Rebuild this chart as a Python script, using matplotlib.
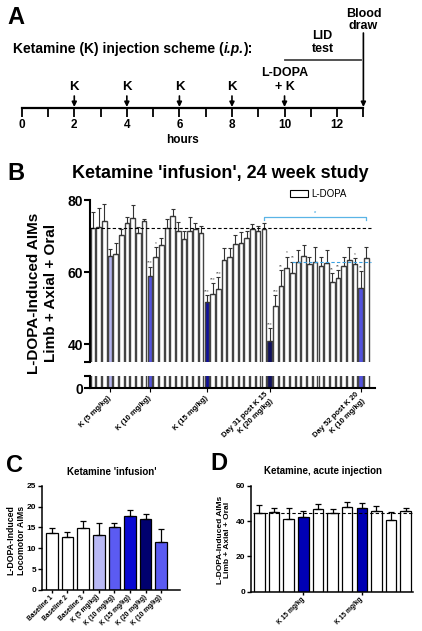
import numpy as np
import matplotlib.pyplot as plt
from matplotlib.patches import Patch

plt.rcParams['font.family'] = ['Liberation Sans', 'DejaVu Sans']
plt.rcParams['font.weight'] = 'bold'

W, H = 422, 631

# ---- panel A: injection scheme ----
hours = np.arange(0, 14)
hour_labels = np.arange(0, 13, 2)
k_hours = [2, 4, 6, 8]
ldopa_hour = 10
lid_span = (10, 12.9)
blood_hour = 13

# ---- panel B: 24 week infusion study ----
b_means = [72.1, 72.4, 74.1, 64.4, 65.0, 70.2, 73.5, 74.9, 70.9, 74.1,
           59.0, 64.3, 67.5, 72.1, 75.6, 71.4, 69.2, 71.5, 71.9, 70.7,
           51.8, 53.8, 55.2, 63.3, 64.3, 67.7, 68.0, 69.5, 71.9, 71.5,
           71.9, 40.7, 50.6, 56.1, 61.0, 59.6, 62.9, 64.5, 62.2, 62.9,
           61.7, 62.6, 57.1, 58.4, 61.8, 63.3, 62.1, 55.6, 63.8]
b_tops = [76.6, 77.7, 78.9, 66.4, 68.1, 71.9, 75.2, 78.6, 72.6, 74.7,
          61.5, 66.9, 69.5, 74.6, 77.4, 73.8, 71.5, 75.4, 73.5, 72.9,
          53.6, 56.9, 58.7, 66.6, 66.6, 70.3, 71.2, 71.5, 73.3, 72.9,
          73.5, 44.4, 53.6, 60.6, 64.3, 62.9, 66.1, 67.5, 64.3, 67.0,
          64.3, 66.1, 59.6, 60.6, 64.3, 67.0, 63.8, 60.3, 66.9]
b_dose_bars = {3: '#b4b4ee', 10: '#5353dd', 20: '#10109a', 31: '#101060', 47: '#5353dd'}
b_stars = {10: '***', 11: '*', 20: '***', 21: '***', 22: '***', 31: '***', 32: '***',
           33: '**', 34: '*', 35: '**', 42: '**', 43: '**', 46: '*', 47: '**'}
b_ticks = [3, 10, 20, 31, 47]
b_ticklabels = ['K (5 mg/kg)', 'K (10 mg/kg)', 'K (15 mg/kg)',
                'Day 31 post K 15\nK (20 mg/kg)', 'Day 52 post K 20\nK (10 mg/kg)']
b_baseline = 72.1
b_post_level = 62.7
b_bracket = (30, 48)

# ---- panel C: locomotor AIMs ----
c_labels = ['Baseline 1', 'Baseline 2', 'Baseline 3', 'K (5 mg/kg)', 'K (10 mg/kg)',
            'K (15 mg/kg)', 'K (20 mg/kg)', 'K (10 mg/kg)']
c_means = [13.6, 12.6, 14.9, 13.3, 15.0, 17.7, 17.0, 11.4]
c_tops = [14.8, 14.0, 16.5, 16.0, 16.0, 19.2, 18.2, 14.6]
c_colors = ['white', 'white', 'white', '#b8b8f4', '#5b5bf2', '#0a0ad2', '#00006e', '#5b5bf2']

# ---- panel D: acute injection ----
d_means = [44.7, 45.3, 41.1, 42.1, 46.6, 44.3, 48.1, 47.2, 45.7, 40.6, 45.7]
d_tops = [49.1, 47.2, 47.2, 45.7, 49.6, 47.0, 50.9, 50.0, 48.5, 45.3, 47.5]
d_k_bars = [3, 7]
d_baseline = 44.7

fig = plt.figure(figsize=(W / 100, H / 100), dpi=100)
renderer = fig.canvas.get_renderer()


def px_axes(x0, y0, x1, y1):
    return fig.add_axes([x0 / W, 1 - y1 / H, (x1 - x0) / W, (y1 - y0) / H])


def ftext(x, y, s, **kw):
    return fig.text(x / W, 1 - y / H, s, **kw)


# ================= A =================
axa = px_axes(0, 0, W, 160)
axa.set_xlim(-0.826, 15.23)
axa.set_ylim(160, 0)
axa.axis('off')
axa.plot([hours[0], hours[-1]], [108, 108], color='k', lw=1.6)
axa.vlines(hours, 108, 117, color='k', lw=1.3)
for h in hour_labels:
    axa.text(h, 125, str(h), ha='center', va='center', fontsize=8.5)
axa.text(6.1, 140, 'hours', ha='center', va='center', fontsize=8.5)
arrow = dict(arrowstyle='-|>', lw=1.2, color='k', mutation_scale=7, shrinkA=0, shrinkB=0)
for h in k_hours + [ldopa_hour]:
    axa.annotate('', xy=(h, 107), xytext=(h, 96), arrowprops=arrow)
for h in k_hours:
    axa.text(h, 87, 'K', ha='center', va='center', fontsize=9.5)
axa.text(ldopa_hour, 80, 'L-DOPA\n+ K', ha='center', va='center', fontsize=9, linespacing=1.15)
axa.annotate('', xy=(blood_hour, 107), xytext=(blood_hour, 33), arrowprops=arrow)
axa.text(blood_hour, 20, 'Blood\ndraw', ha='center', va='center', fontsize=9, linespacing=1.1)
axa.plot(lid_span, [60, 60], color='#444444', lw=1.3)
axa.text(np.mean(lid_span), 42.5, 'LID\ntest', ha='center', va='center', fontsize=9, linespacing=1.1)

# heading with italic "i.p." built from pieces
xpos = 12.7 / W
for piece, style in [('Ketamine (K) injection scheme (', 'normal'), ('i.p.', 'italic'), ('):', 'normal')]:
    t = fig.text(xpos, 1 - 49 / H, piece, ha='left', va='center', fontsize=10, style=style)
    bb = t.get_window_extent(renderer)
    xpos = fig.transFigure.inverted().transform((bb.x1, bb.y0))[0]

# ================= B =================
idx = np.arange(len(b_means))
b_means = np.array(b_means)
b_tops = np.array(b_tops)
b_cols = [b_dose_bars.get(i, 'white') for i in idx]

axb = px_axes(90, 200, 375, 362)
axb2 = px_axes(90, 376, 375, 388.3)
for ax, lo, hi in [(axb, 35, 80), (axb2, 0, 3.4)]:
    ax.bar(idx, b_means, width=0.8, color=b_cols, edgecolor='#444444', lw=1.0)
    ax.set_xlim(-0.5, 49.5)
    ax.set_ylim(lo, hi)
    for s in ['top', 'right']:
        ax.spines[s].set_visible(False)
    ax.spines['left'].set_linewidth(1.5)
    ax.tick_params(axis='y', width=1.5, length=4, labelsize=10, pad=1)

axb.errorbar(idx, b_means, yerr=[np.zeros(len(idx)), b_tops - b_means], fmt='none',
             ecolor='#333333', elinewidth=0.8, capsize=1.2, capthick=0.8)
for i, s in b_stars.items():
    axb.text(i, b_tops[i] + 0.3, s, fontsize=3.5, ha='center', va='bottom',
             color='#555555', fontweight='normal')
axb.spines['bottom'].set_visible(False)
axb.set_xticks([])
axb.set_yticks([35, 40, 60, 80])
axb.set_yticklabels(['', '40', '60', '80'])
axb.plot([-0.5, 48.8], [b_baseline, b_baseline], color='k', lw=0.8, dashes=(3, 2))
axb.plot([34.9, 48.8], [b_post_level, b_post_level], color='#3aa0e0', lw=0.8, dashes=(3, 2))
x0, x1 = b_bracket
axb.plot([x0, x0, x1, x1], [74.4, 75.2, 75.2, 74.4], color='#5ab4e6', lw=0.9)
axb.text((x0 + x1) / 2, 75.5, '*', fontsize=4, ha='center', va='bottom', color='#5ab4e6')

axb2.spines['bottom'].set_linewidth(1.5)
axb2.set_yticks([0, 3.4])
axb2.set_yticklabels(['0', ''])
axb2.set_xticks(b_ticks)
axb2.set_xticklabels(b_ticklabels, rotation=45, ha='right', va='center',
                     rotation_mode='anchor', fontsize=5.5, linespacing=1.25)
axb2.tick_params(axis='x', length=3, width=0.8, pad=3)

fig.legend([Patch(facecolor='white', edgecolor='k', lw=0.8)], ['L-DOPA'],
           loc='center left', bbox_to_anchor=(290 / W, 1 - 194 / H), frameon=False,
           handlelength=1.85, handleheight=0.6, handletextpad=0.3,
           borderpad=0, borderaxespad=0, prop={'weight': 'normal', 'size': 7})
ftext(220, 173, "Ketamine 'infusion', 24 week study", ha='center', va='center', fontsize=13)
ftext(42.5, 293, 'L-DOPA-Induced AIMs\nLimb + Axial + Oral', rotation=90, ha='center',
      va='center', fontsize=11, linespacing=1.2)

# ================= C =================
axc = px_axes(41.7, 485.7, 180, 590)
xc = np.arange(len(c_means))
c_means = np.array(c_means)
c_tops = np.array(c_tops)
axc.bar(xc, c_means, width=0.75, color=c_colors, edgecolor='k', lw=0.9)
axc.errorbar(xc, c_means, yerr=[np.zeros(len(xc)), c_tops - c_means], fmt='none',
             ecolor='k', elinewidth=0.9, capsize=2.5, capthick=0.9)
axc.set_xlim(-0.65, 8.2)
axc.set_ylim(0, 25)
axc.set_yticks(np.arange(0, 26, 5))
axc.set_xticks(xc)
axc.set_xticklabels(c_labels, rotation=45, ha='right', va='center', rotation_mode='anchor',
                    fontsize=4.8)
axc.tick_params(axis='y', labelsize=6, length=3, width=1, pad=1)
axc.tick_params(axis='x', length=2.5, width=1, pad=2)
for s in ['top', 'right']:
    axc.spines[s].set_visible(False)
for s in ['left', 'bottom']:
    axc.spines[s].set_linewidth(1.1)
ftext(112, 472, "Ketamine 'infusion'", ha='center', va='center', fontsize=7)
ftext(16, 540, 'L-DOPA-Induced\nLocomotor AIMs', rotation=90, ha='center', va='center',
      fontsize=6.3, linespacing=1.15)

# ================= D =================
axd = px_axes(251, 485.7, 413, 591.7)
xd = np.arange(len(d_means))
d_means = np.array(d_means)
d_tops = np.array(d_tops)
d_cols = ['#0000b4' if i in d_k_bars else 'white' for i in xd]
axd.bar(xd, d_means, width=0.72, color=d_cols, edgecolor='k', lw=0.9)
axd.errorbar(xd, d_means, yerr=[np.zeros(len(xd)), d_tops - d_means], fmt='none',
             ecolor='k', elinewidth=0.9, capsize=2.5, capthick=0.9)
axd.plot([-0.4, 10.5], [d_baseline, d_baseline], color='k', lw=0.8, dashes=(3, 2))
axd.set_xlim(-0.57, 10.5)
axd.set_ylim(0, 60)
axd.set_yticks([0, 20, 40, 60])
axd.set_xticks(d_k_bars)
axd.set_xticklabels(['K 15 mg/kg'] * len(d_k_bars), rotation=45, ha='right', va='center',
                    rotation_mode='anchor', fontsize=4.8)
axd.tick_params(axis='y', labelsize=6, length=3, width=1, pad=1)
axd.tick_params(axis='x', length=2.5, width=1, pad=2)
for s in ['top', 'right']:
    axd.spines[s].set_visible(False)
for s in ['left', 'bottom']:
    axd.spines[s].set_linewidth(1.1)
ftext(323, 471, 'Ketamine, acute injection', ha='center', va='center', fontsize=7)
ftext(224, 540, 'L-DOPA-Induced AIMs\nLimb + Axial + Oral', rotation=90, ha='center',
      va='center', fontsize=6, linespacing=1.15)

# panel letters
for letter, x, y in [('A', 16, 18), ('B', 16, 174), ('C', 14, 466), ('D', 219, 463)]:
    ftext(x, y, letter, ha='center', va='center', fontsize=17)

fig.savefig('out.png', dpi=100)
